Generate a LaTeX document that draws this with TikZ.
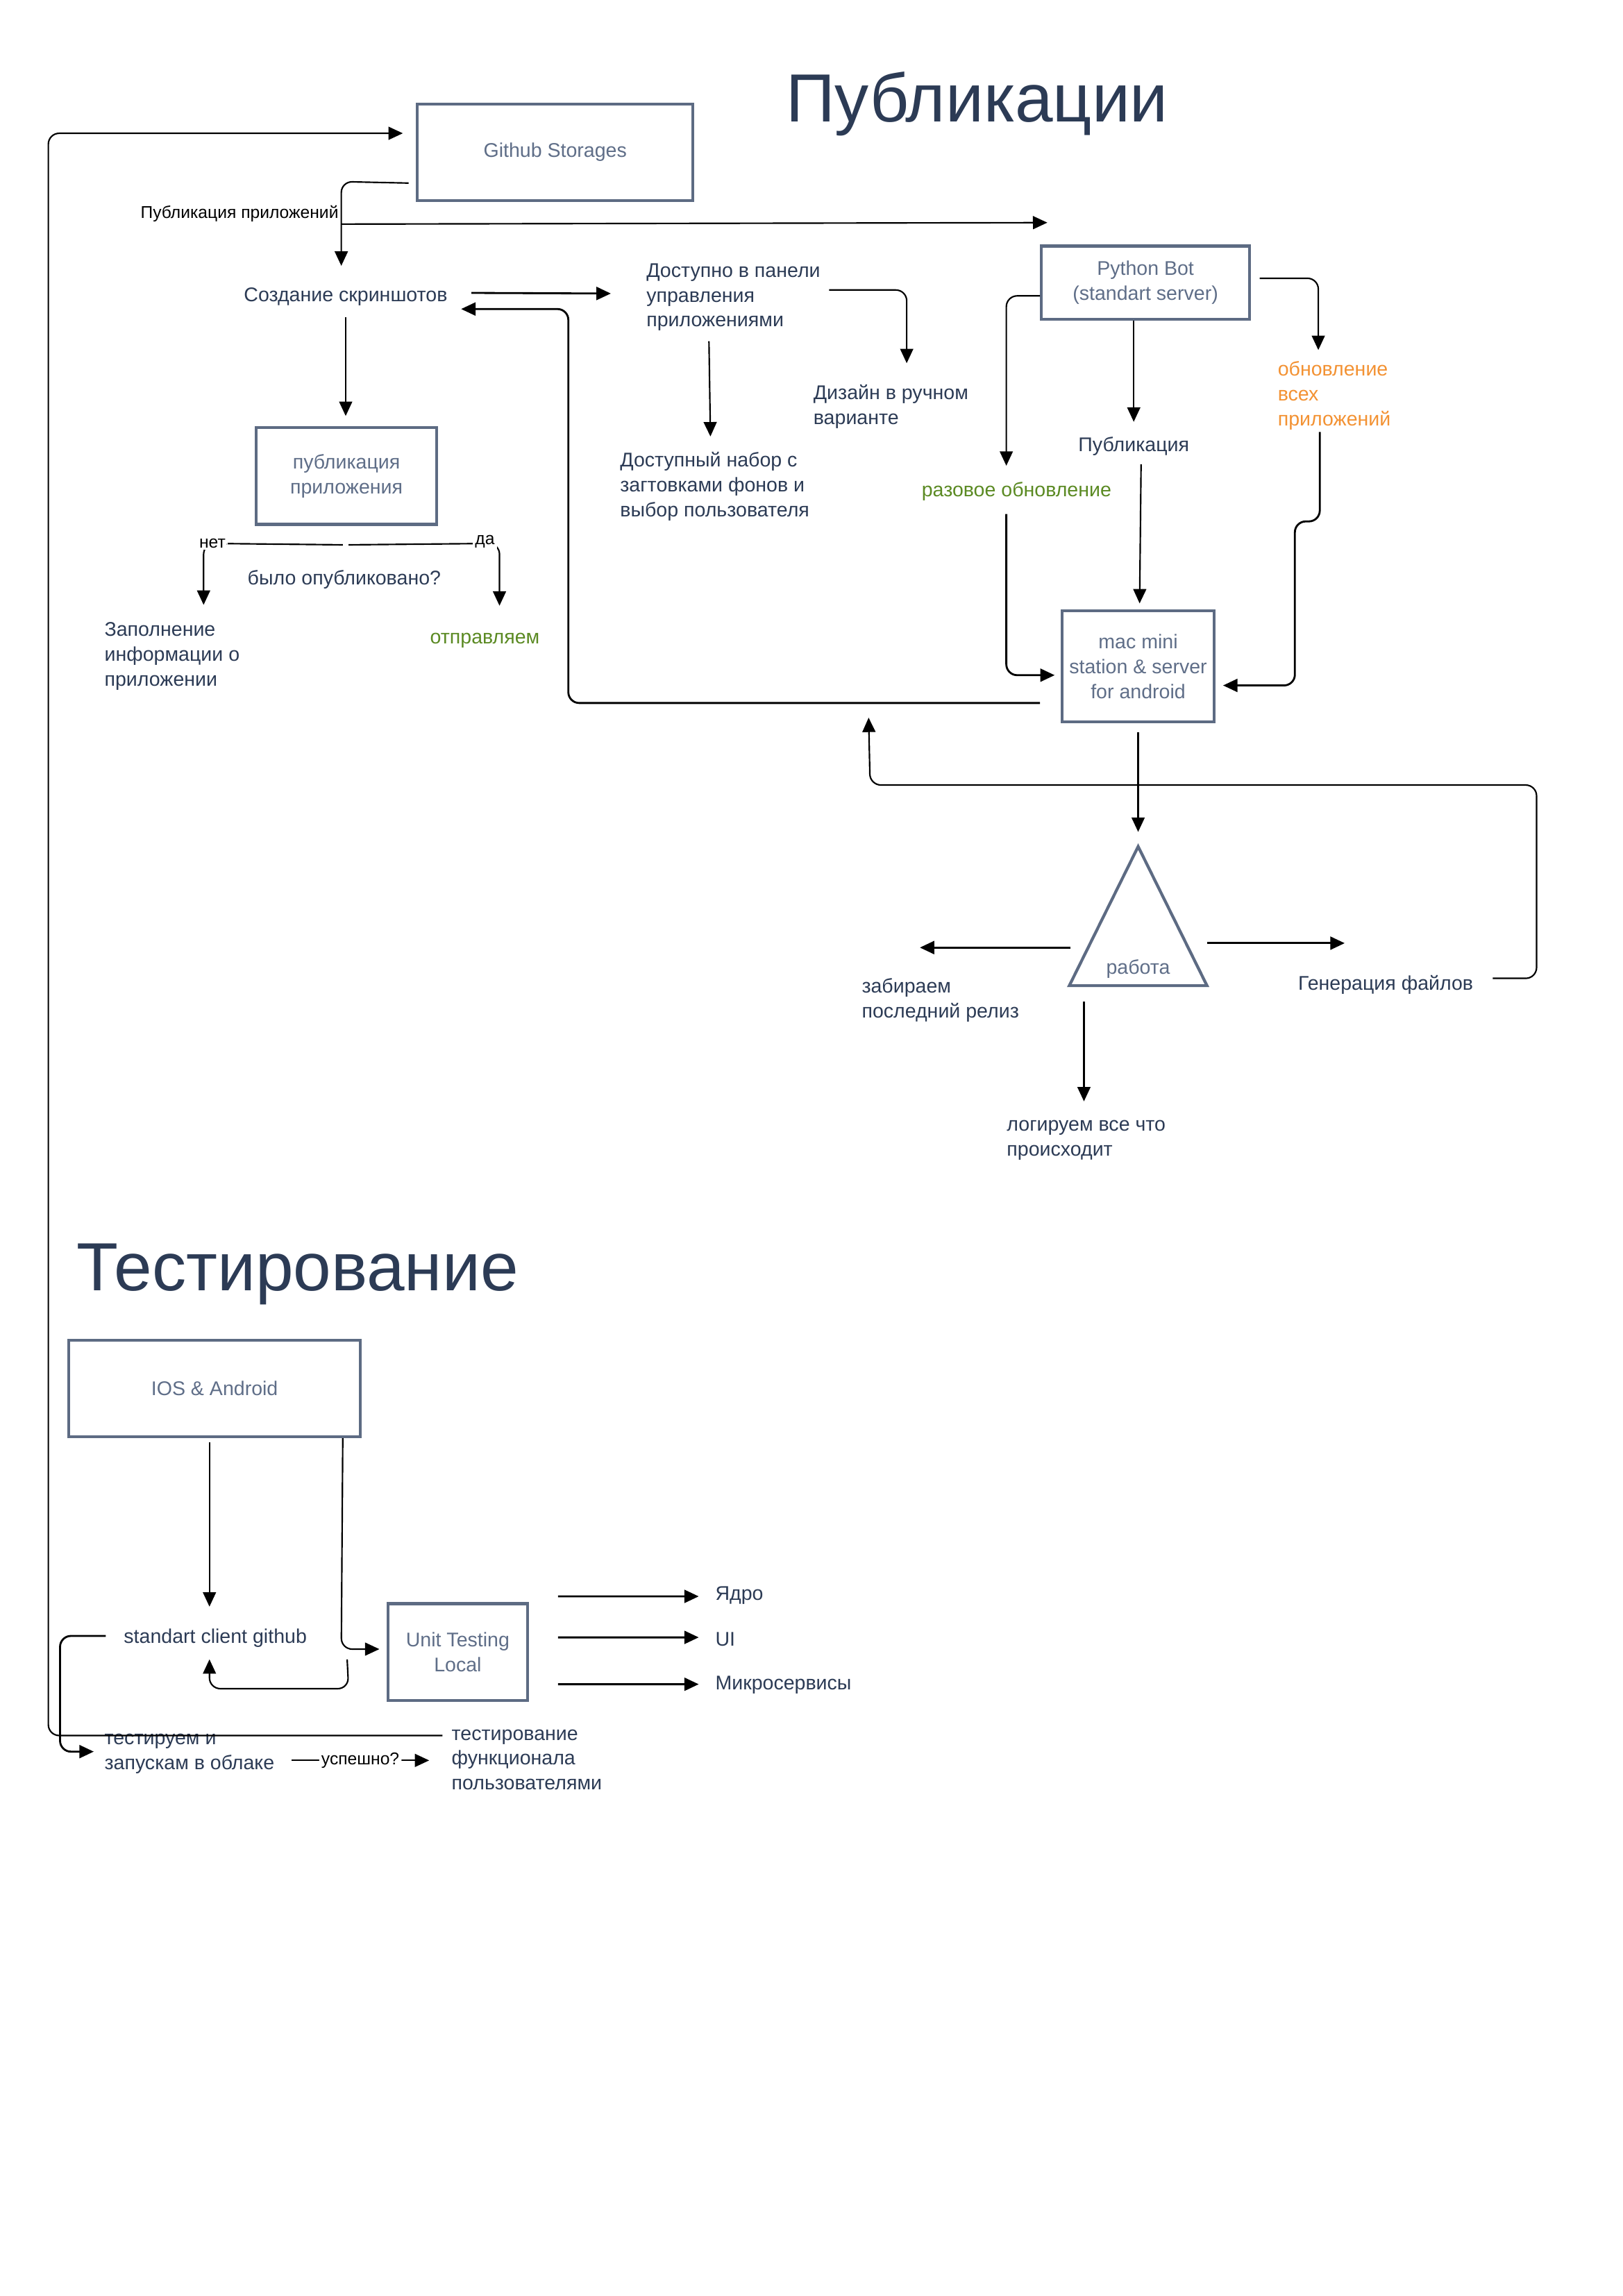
\documentclass[tikz,border=0pt]{standalone}
\usepackage{fontspec}
\setmainfont{Liberation Sans}
\usetikzlibrary{arrows.meta,calc}
\definecolor{navy}{HTML}{2C3B55}
\definecolor{boxc}{HTML}{5D6B83}
\definecolor{boxt}{HTML}{5F6E88}
\definecolor{grn}{HTML}{5B8A23}
\definecolor{orng}{HTML}{F39233}
\newcommand{\bodyf}{\fontsize{7.3}{9.17}\selectfont}
\newcommand{\lblf}{\fontsize{6.3}{7.5}\selectfont}
\newcommand{\titlef}{\fontsize{25.1}{30}\selectfont}
\begin{document}
\begin{tikzpicture}[x=0.5394pt,y=-0.5394pt,
  txt/.style={inner sep=0pt, text=navy, font=\bodyf, yshift=-0.8pt},
  mtxt/.style={txt, align=left, anchor=north west},
  titlenode/.style={inner sep=0pt, text=navy, font=\titlef, anchor=base},
  box/.style={draw=boxc, line width=1.08pt, text=boxt, font=\bodyf, align=center, inner sep=0pt},
  conn/.style={draw=black, line width=0.55pt, -{Triangle[length=5.3pt,width=4.8pt]}, rounded corners=4pt},
  bold/.style={line width=0.72pt},
  lbl/.style={font=\lblf, text=black, inner sep=0.8pt},
  wlbl/.style={lbl, fill=white}]
\useasboundingbox[fill=white] (0,0) rectangle (1108,1567.7);

% ---------- titles
\node[titlenode] (t1) at (667,83) {Публикации};
\node[titlenode] (t2) at (203,881) {Тестирование};

% ---------- publication part
\node[box, minimum width=188*0.5394pt, minimum height=66*0.5394pt] (gh) at (379,104) {Github Storages};
\node[txt] (scr) at (236,201) {Создание скриншотов};
\node[mtxt] (dost) at (441,178) {Доступно в панели\\управления\\приложениями};
\node[box, minimum width=123*0.5394pt, minimum height=66*0.5394pt] (pub) at (236.5,325) {публикация\\приложения};
\node[txt] (q) at (235,394) {было опубликовано?};
\node[mtxt] (zap) at (71,423) {Заполнение\\информации о\\приложении};
\node[txt, text=grn] (otp) at (331,436) {отправляем};
\node[mtxt] (nab) at (423,307) {Доступный набор с\\загтовками фонов и\\выбор пользователя};
\node[mtxt] (diz) at (555,261) {Дизайн в ручном\\варианте};
\node[box, minimum width=142*0.5394pt, minimum height=50*0.5394pt] (py) at (782,193) {Python Bot\\(standart server)};
\node[txt, text=grn] (raz) at (694,334) {разовое обновление};
\node[txt] (publ) at (774,303) {Публикация};
\node[mtxt, text=orng] (obn) at (872,245) {обновление\\всех\\приложений};
\node[box, minimum width=104*0.5394pt, minimum height=76*0.5394pt] (mac) at (777,455) {mac mini\\station \& server\\for android};
\coordinate (apex) at (777,578);
\draw[draw=boxc, line width=1.08pt, line join=miter] (apex) -- (824,673) -- (730,673) -- cycle;
\node[txt, text=boxt] (rab) at (777,660) {работа};
\node[mtxt] (zab) at (588,666) {забираем\\последний релиз};
\node[txt] (gen) at (946,671) {Генерация файлов};
\node[mtxt] (log) at (687,763) {логируем все что\\происходит};

% ---------- testing part nodes
\node[box, minimum width=199*0.5394pt, minimum height=66*0.5394pt] (ios) at (146.5,948) {IOS \& Android};
\node[txt] (scg) at (147,1117) {standart client github};
\node[box, minimum width=95*0.5394pt, minimum height=66*0.5394pt] (unit) at (312.5,1128) {Unit Testing\\Local};
\node[txt, anchor=west] (yad) at (488,1088) {Ядро};
\node[txt, anchor=west] (ui) at (488,1118) {UI};
\node[txt, anchor=west] (mic) at (488,1149) {Микросервисы};
\node[mtxt] (tst) at (71,1182) {тестируем и\\запускам в облаке};
\node[mtxt] (tf) at (308,1179) {тестирование\\функционала\\пользователями};

% connectors (publication)
\draw[conn] ($(tf.north west)+(-6,4.5)$) -- (33,1185) -- (33,91) -- ($(gh.west)+(-9,-13)$);
\draw[conn] ($(gh.south west)+(-5,-13)$) -- (233,124) -- node[pos=0.38, left, lbl] {Публикация приложений} ($(scr.north)+(-3,-14.5)$);
\draw[conn, rounded corners=0pt] (233,153) -- ($(py.north west)+(5,-15)$);
\draw[conn, bold] ($(scr.east)+(16,-2.5)$) -- ($(dost.west)+(-24,-2.5)$);
\draw[conn, bold] ($(mac.west)+(-14,25)$) -- (388,480) -- (388,211) -- ($(scr.east)+(9,8.5)$);
\draw[conn] ($(scr.south)+(0,7.5)$) -- ($(pub.north)+(-0.5,-7)$);
\draw[conn] ($(pub.south)+(-2.5,13)$) -- (139,371) node[wlbl, xshift=6*0.5394pt] {нет} -- ($(zap.north west)+(68,-11.5)$);
\draw[conn] ($(pub.south)+(1.5,13)$) -- (341,371) -- ($(otp.north)+(10,-18.5)$);
\node[wlbl] (da) at (331,370) {да};
\draw[conn] ($(dost.north west)+(43,53.5)$) -- ($(nab.north west)+(62,-10.5)$);
\draw[conn] ($(dost.north west)+(125,18.5)$) -- (619,198) -- ($(diz.north west)+(64,-14.5)$);
\draw[conn] ($(py.west)+(0,9)$) -- (687,202) -- ($(raz.center)+(-7,-17.5)$);
\draw[conn] ($(py.south)+(-8,0)$) -- ($(publ.center)+(0,-16.5)$);
\draw[conn] ($(py.east)+(6,-3)$) -- (900,190) -- ($(obn.north west)+(28,-7.5)$);
\draw[conn, bold] ($(raz.center)+(-7,15.5)$) -- (687,461) -- ($(mac.west)+(-4,6)$);
\draw[conn] ($(publ.center)+(5,12.5)$) -- ($(mac.north)+(1,-4)$);
\draw[conn, bold] ($(obn.north west)+(29,48.5)$) -- (901,356) -- (884,356) -- (884,468) -- ($(mac.east)+(5,13)$);
\draw[conn] ($(mac.south)+(0,6)$) -- ($(apex)+(0,-10)$);
\draw[conn, bold] ($(rab.center)+(-46,-14.5)$) -- ($(zab.north west)+(40,-20.5)$);
\draw[conn, bold] ($(rab.center)+(47,-17.5)$) -- ($(gen.center)+(-28,-28.5)$);
\draw[conn] ($(gen.east)+(13,-4.5)$) -- (1049,668) -- (1049,536) -- (594,536) -- ($(mac.south west)+(-131,-4)$);
\draw[conn] ($(rab.center)+(-37,22.5)$) -- ($(log.north west)+(53,-12.5)$);

% connectors (testing)
\draw[conn] ($(ios.south)+(-3.5,3)$) -- ($(scg.center)+(-4,-21.5)$);
\draw[conn] ($(ios.south east)+(-13,0)$) -- (233,1126) -- ($(unit.west)+(-5,-2)$);
\draw[conn] ($(unit.west)+(-27,5)$) -- (238,1153) -- (143,1153) -- ($(scg.center)+(-4,14.5)$);
\draw[conn, bold] ($(scg.west)+(-12,-1.5)$) -- (41,1117) -- (41,1196) -- ($(tst.north west)+(-7,12.5)$);
\draw[conn] ($(tst.north west)+(128,18.5)$) -- node[pos=0.5, wlbl] {успешно?} ($(tf.north west)+(-15,21.5)$);
\draw[conn, bold] ($(unit.east)+(20,-38)$) -- ($(yad.west)+(-11,0.5)$);
\draw[conn, bold] ($(unit.east)+(20,-10)$) -- ($(ui.west)+(-11,-1.5)$);
\draw[conn, bold] ($(unit.east)+(20,22)$) -- ($(mic.west)+(-11,-0.5)$);
\end{tikzpicture}
\end{document}
